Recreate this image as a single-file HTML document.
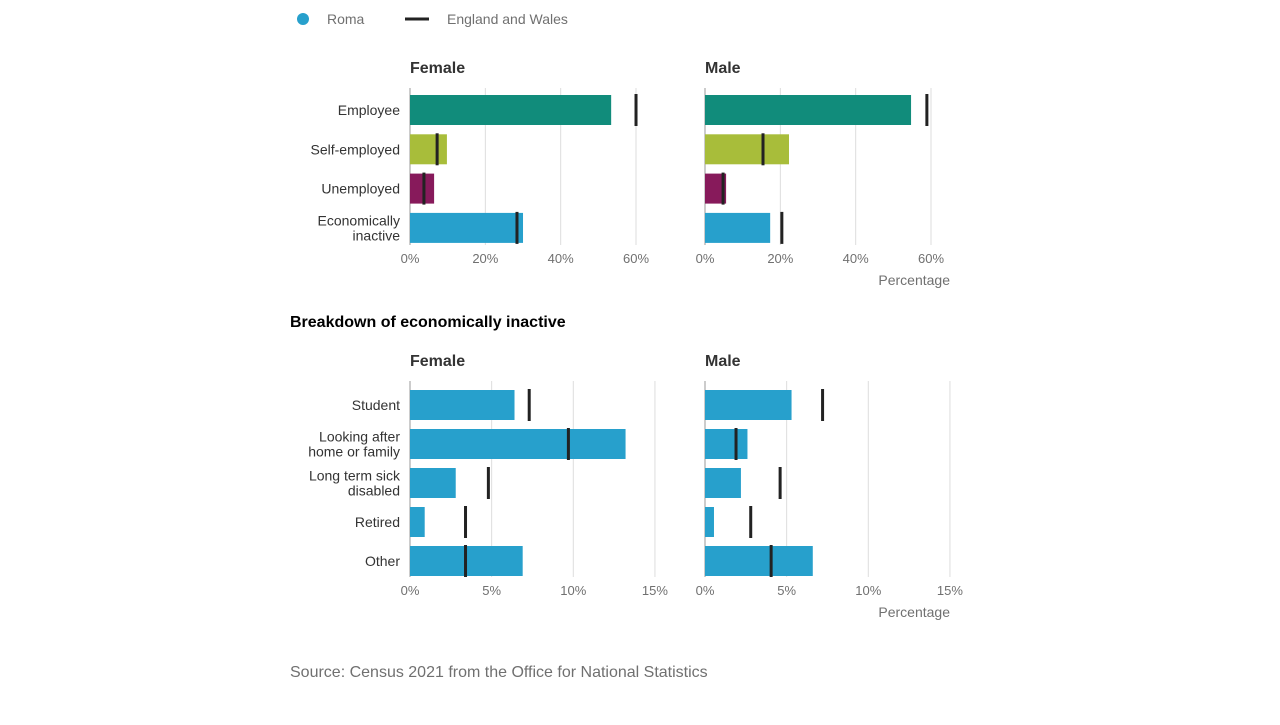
<!DOCTYPE html>
<html><head><meta charset="utf-8"><style>
body{margin:0;background:#fff;font-family:"Liberation Sans",sans-serif;}
svg text{font-family:"Liberation Sans",sans-serif;}
</style></head><body>
<svg id="c" width="1280" height="720" xmlns="http://www.w3.org/2000/svg">
<g>
<circle cx="303" cy="19" r="6" fill="#27a0cc"/>
<text x="327" y="24" font-size="14" fill="#707070">Roma</text>
<rect x="405" y="17.5" width="24" height="3" fill="#222"/>
<text x="447" y="24" font-size="14" fill="#707070">England and Wales</text>
</g>
<text x="290" y="327" font-size="16" font-weight="bold" fill="#000">Breakdown of economically inactive</text>
<text x="290" y="677" font-size="16" fill="#707070">Source: Census 2021 from the Office for National Statistics</text>
</svg>
<script>
const topCats=["Employee","Self-employed","Unemployed","Economically inactive"];
const topColors=["#118c7b","#a8bd3a","#871a5b","#27a0cc"];
const topFemaleRoma=[53.4,9.8,6.4,30];
const topFemaleEW=[60,7.2,3.7,28.4];
const topMaleRoma=[54.7,22.3,5.6,17.3];
const topMaleEW=[58.9,15.4,4.8,20.4];
const topTicks=[0,20,40,60];
const botCats=["Student","Looking after home or family","Long term sick disabled","Retired","Other"];
const botFemaleRoma=[6.4,13.2,2.8,0.9,6.9];
const botFemaleEW=[7.3,9.7,4.8,3.4,3.4];
const botMaleRoma=[5.3,2.6,2.2,0.55,6.6];
const botMaleEW=[7.2,1.9,4.6,2.8,4.05];
const botTicks=[0,5,10,15];

const svg=document.getElementById('c');
const NS="http://www.w3.org/2000/svg";
function mk(tag,attrs,parent){const e=document.createElementNS(NS,tag);for(const k in attrs)e.setAttribute(k,attrs[k]);(parent||svg).appendChild(e);return e;}
const catLabels={"Economically inactive":["Economically","inactive"],"Looking after home or family":["Looking after","home or family"],"Long term sick disabled":["Long term sick","disabled"]};

function panel(x0,pxPer,yTop,yBot,rowStart,rowStep,cats,colors,roma,ew,ticks,title,showCats,showAxisTitle,name){
  const g=mk('g',{});
  
  
  const xs=v=>x0+v*pxPer;
  const t=mk('text',{x:x0,y:yTop-15,'font-size':16,'font-weight':'bold',fill:'#333'},g);t.textContent=title;
  
  
  ticks.forEach(tv=>{
    const l=mk('line',{x1:xs(tv),x2:xs(tv),y1:yTop,y2:yBot,stroke:tv===0?'#999':'#ddd','stroke-width':1},g);
    
    
    const tt=mk('text',{x:xs(tv),y:yBot+18,'font-size':13,fill:'#707070','text-anchor':'middle'},g);tt.textContent=tv+'%';
    
    
  });
  if(showAxisTitle){const at=mk('text',{x:x0+245,y:yBot+40,'font-size':14,fill:'#707070','text-anchor':'end'},g);at.textContent='Percentage';
    
    }
  cats.forEach((c,i)=>{
    const cy=rowStart+i*rowStep;
    const b=mk('rect',{x:x0,y:cy-15,width:xs(roma[i])-x0,height:30,fill:colors[i]},g);
    
    
    const m=mk('rect',{x:xs(ew[i])-1.5,y:cy-16,width:3,height:32,fill:'#222'},g);
    
    
    if(showCats){
      const lines=catLabels[c]||[c];
      lines.forEach((ln,j)=>{
        const yy=cy+5+(lines.length===2?(j===0?-7.5:7.5):0);
        const ct=mk('text',{x:x0-10,y:yy,'font-size':14,fill:'#333','text-anchor':'end'},g);ct.textContent=ln;
        
        
      });
    }
  });
}
panel(410,3.767,88,245,110,39.3,topCats,topColors,topFemaleRoma,topFemaleEW,topTicks,'Female',true,false,'top-female-panel');
panel(705,3.767,88,245,110,39.3,topCats,topColors,topMaleRoma,topMaleEW,topTicks,'Male',false,true,'top-male-panel');
const blue=botCats.map(()=> "#27a0cc");
panel(410,16.33,381,577,405,39,botCats,blue,botFemaleRoma,botFemaleEW,botTicks,'Female',true,false,'bottom-female-panel');
panel(705,16.33,381,577,405,39,botCats,blue,botMaleRoma,botMaleEW,botTicks,'Male',false,true,'bottom-male-panel');
</script>
</body></html>
